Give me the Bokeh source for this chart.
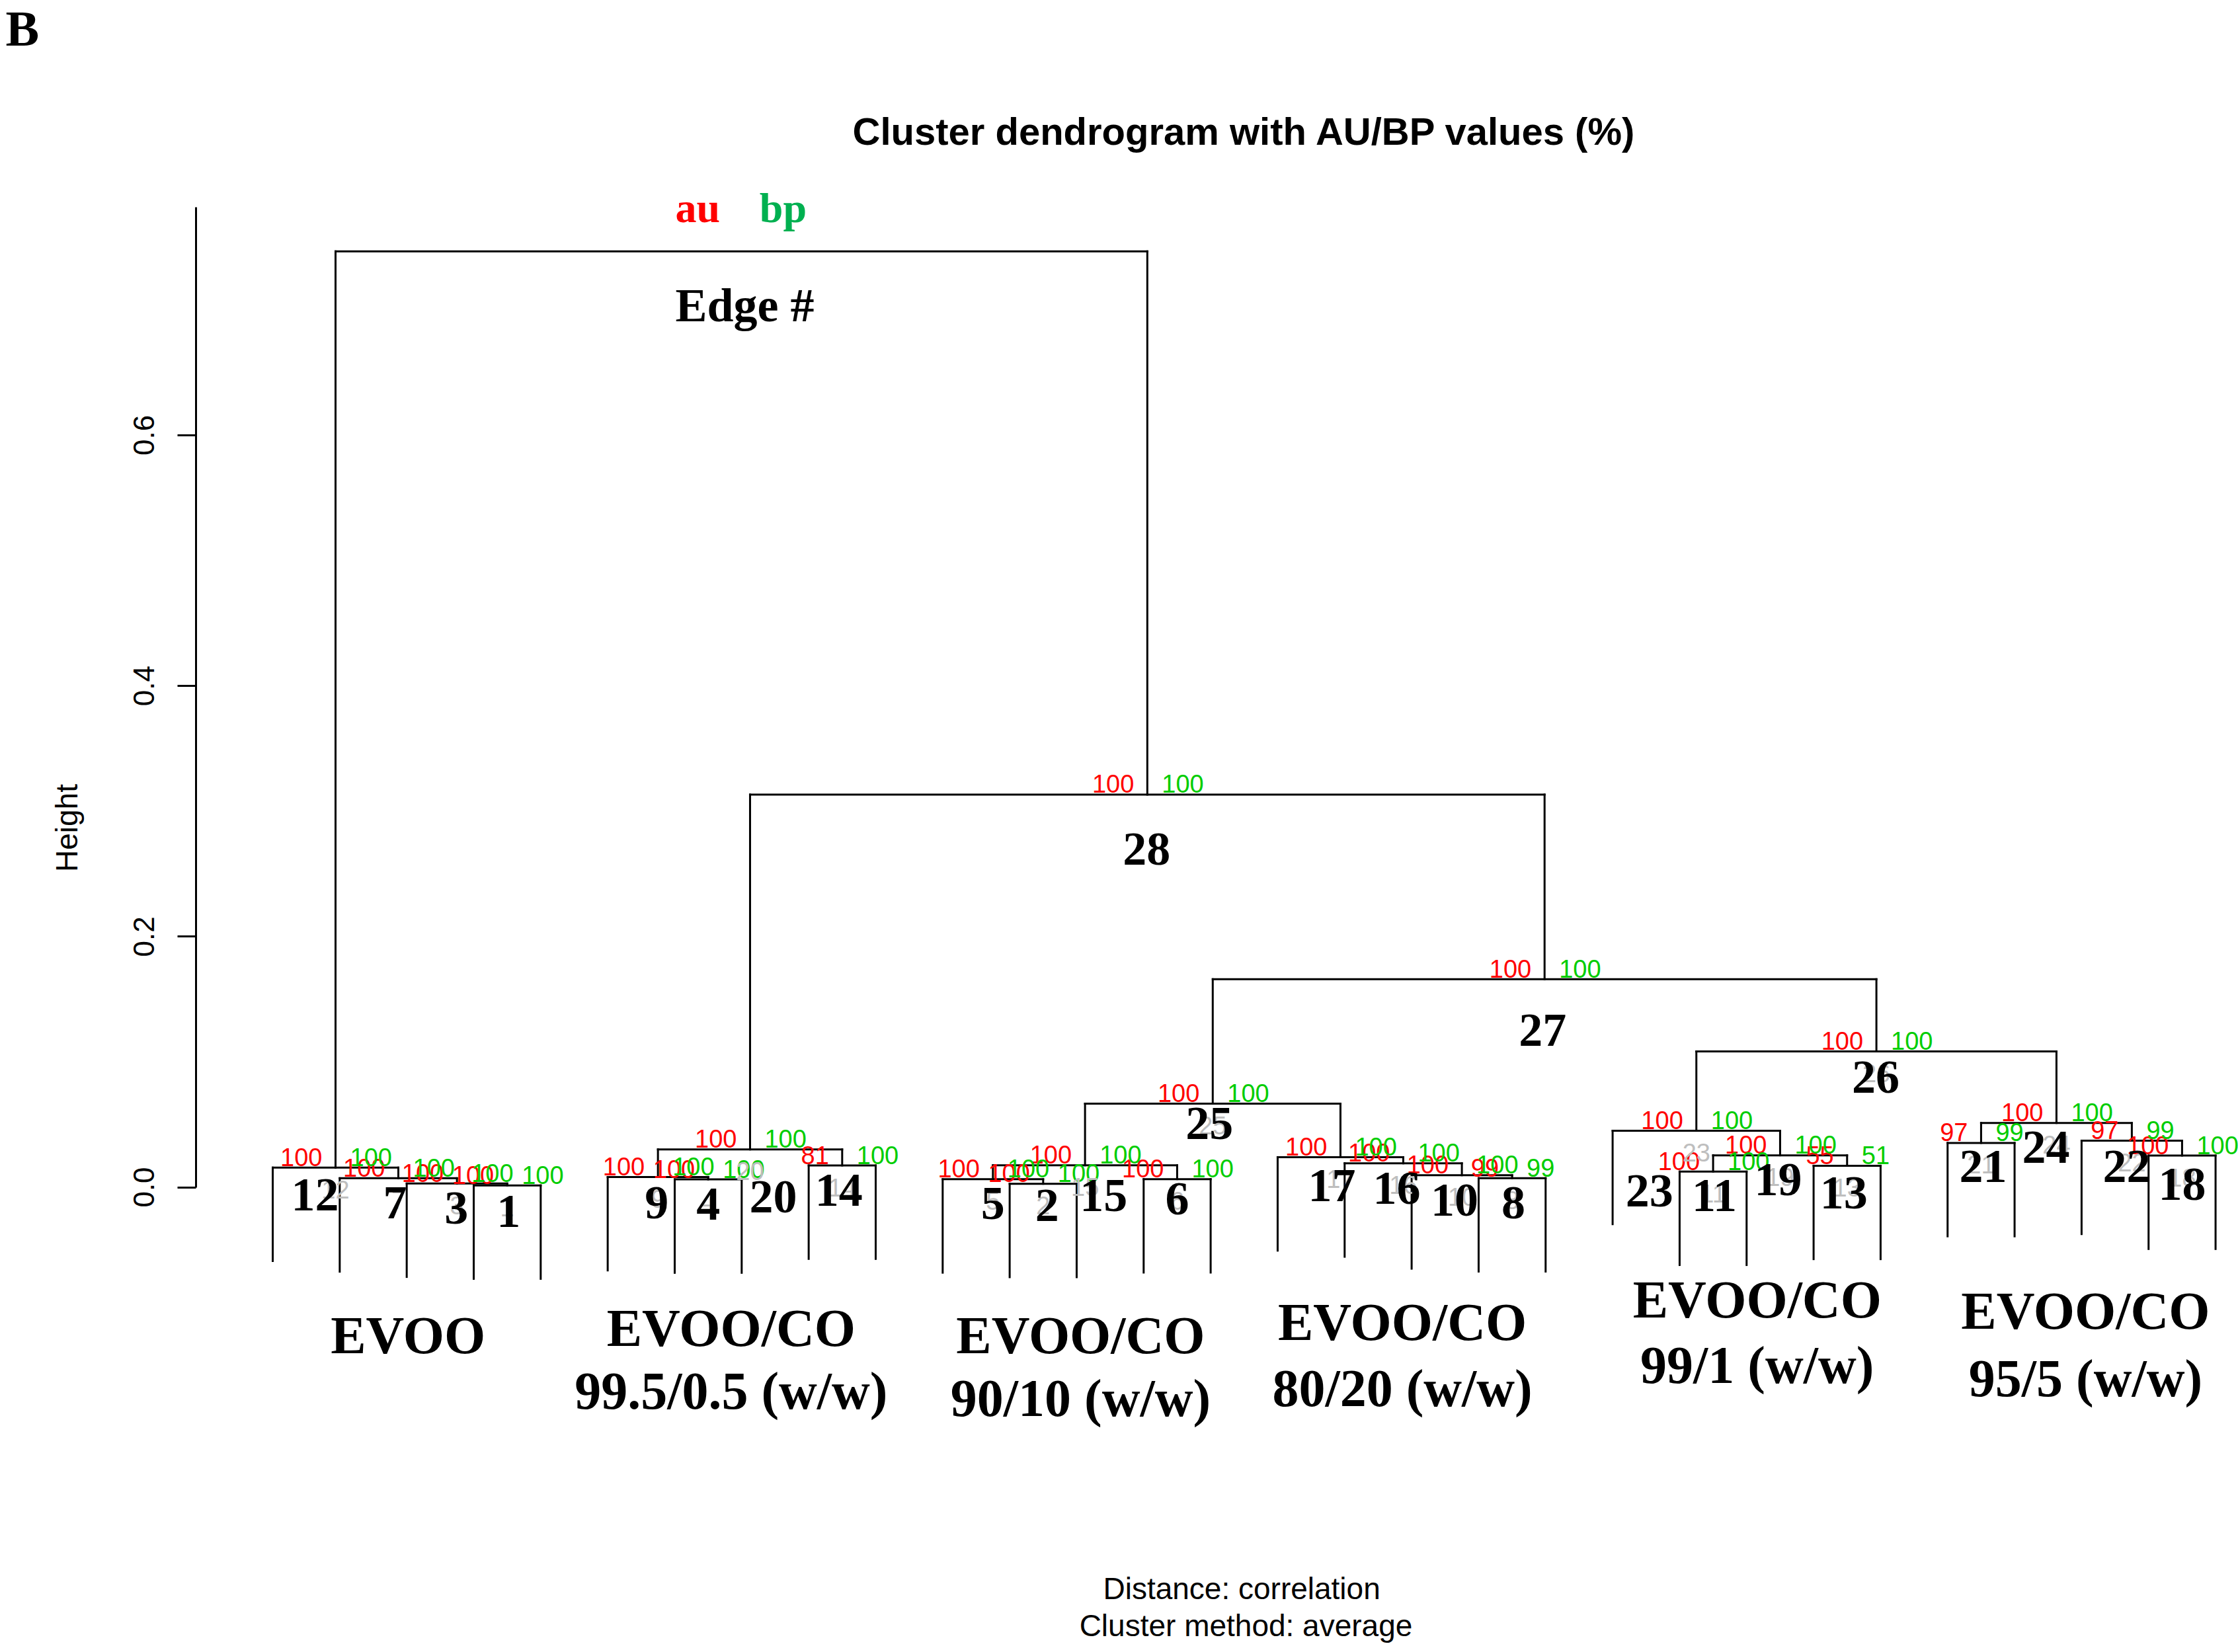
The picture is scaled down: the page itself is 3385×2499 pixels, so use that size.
import numpy as np
from bokeh.plotting import figure
from bokeh.models import Range1d, LinearAxis, FixedTicker, PrintfTickFormatter, ColumnDataSource
from bokeh.core.properties import value
from bokeh.embed import file_html
from bokeh.resources import INLINE

# ------------------------------------------------------------------ data
n_leaves = 30
edge_numbers = list(range(1, 30))
# hclust-style merges: negative = leaf (-(position+1)), positive = edge number
merge_left = [-4, -12, -3, -7, -11, -14, -2, -19, -6, -18, -22, -1, -24, -9, 5,
              -17, -16, -29, 11, 9, -26, -28, -21, 21, 15, 23, 25, 20, 12]
merge_right = [-5, -13, 1, -8, 2, -15, 3, -20, 4, 8, -23, 7, -25, -10, 6,
               10, 16, -30, 13, 14, -27, 18, 19, 22, 17, 24, 26, 27, 28]
merge_height = [0.0015, 0.0028, 0.0030, 0.0063, 0.0064, 0.0065, 0.0072, 0.0073,
                0.0082, 0.0096, 0.0125, 0.0157, 0.0172, 0.0174, 0.0175, 0.0191,
                0.0240, 0.0253, 0.0255, 0.0302, 0.0354, 0.0372, 0.0451, 0.0513,
                0.0667, 0.1084, 0.1660, 0.3133, 0.7467]
# AU / BP (%) for edges 1..28 (edge 29 = root carries the legend)
au_values = [100, 100, 100, 100, 100, 100, 100, 99, 100, 100, 100, 100, 55, 81,
             100, 100, 100, 100, 100, 100, 97, 97, 100, 100, 100, 100, 100, 100]
bp_values = [100, 100, 100, 100, 100, 100, 100, 99, 100, 100, 100, 100, 51, 100,
             100, 100, 100, 100, 100, 100, 99, 99, 100, 100, 100, 100, 100, 100]
group_line1 = ["EVOO", "EVOO/CO", "EVOO/CO", "EVOO/CO", "EVOO/CO", "EVOO/CO"]
group_line2 = ["", "99.5/0.5 (w/w)", "90/10 (w/w)", "80/20 (w/w)", "99/1 (w/w)", "95/5 (w/w)"]
group_sizes = [5, 5, 5, 5, 5, 5]
y_ticks = [0.0, 0.2, 0.4, 0.6]

# ------------------------------------------------------------------ layout / style
W, H = 3385, 2491
X0, DX = 412.0, 101.33        # canvas px of leaf 0, px per leaf
Y0, DY = 1795.5, 1896.0       # canvas px of height 0, px per unit height


def px_x(cx):
    return (cx - X0) / DX


def px_y(cy):
    return (Y0 - cy) / DY


# hand-placed big edge-number offsets (px) relative to node centre / line
edge_label_dx = [2, 6, -1, 0, 0, 0, -5, 2, -2, -11, 2, -31, -5, -5, 28, -10, -13, 0,
                 -3, 35, 3, -8, -71, -16, -5, -1, -3, -1]
edge_label_dy = [39, 33, 37, 37, 37, 30, 37, 37, 39, 38, 36, 41, 41, 37, 46, 38, 43, 43,
                 37, 72, 36, 39, 91, 37, 30, 39, 77, 83]
group_dx = [2, -16, 6, -14, 16, 6]
group_dy1 = [224, 213, 224, 204, 170, 187]
group_dy2 = [0, 308, 319, 304, 269, 289]

RED = "#FF0000"
GREEN = "#00CD00"
GRAY = "#BEBEBE"

# ------------------------------------------------------------------ dendrogram geometry
hang = 0.1 * (max(merge_height) - min(merge_height))
node_x, node_h = {}, {}
sx0, sy0, sx1, sy1 = [], [], [], []
for e, l, r, h in zip(edge_numbers, merge_left, merge_right, merge_height):
    def child(c):
        if c < 0:
            return float(-c - 1), h - hang
        return node_x[c], node_h[c]
    xl, bl = child(l)
    xr, br = child(r)
    node_x[e] = (xl + xr) / 2.0
    node_h[e] = h
    sx0 += [xl, xl, xr]
    sy0 += [h, h, h]
    sx1 += [xr, xl, xr]
    sy1 += [h, bl, br]

p = figure(width=W, height=H, x_range=Range1d(px_x(0), px_x(W)),
           y_range=Range1d(px_y(H), px_y(0)), output_backend="svg",
           toolbar_location=None, x_axis_type=None, y_axis_type=None,
           min_border=0, title=None)
p.outline_line_color = None
p.background_fill_color = "white"
p.border_fill_color = "white"

p.segment(x0=sx0, y0=sy0, x1=sx1, y1=sy1, line_color="black", line_width=3,
          line_cap="square")

# ------------------------------------------------------------------ y axis
yaxis = LinearAxis(fixed_location=px_x(295.5), bounds=(0, 0.782),
                   ticker=FixedTicker(ticks=y_ticks),
                   formatter=PrintfTickFormatter(format="%.1f"))
yaxis.axis_line_width = 3
yaxis.major_tick_line_width = 3
yaxis.major_tick_out = 28
yaxis.major_tick_in = 0
yaxis.minor_tick_out = 0
yaxis.minor_tick_in = 0
yaxis.major_label_orientation = "vertical"
yaxis.major_label_text_font = "Liberation Sans"
yaxis.major_label_text_font_size = "44px"
yaxis.major_label_text_color = "black"
yaxis.major_label_standoff = 35
p.add_layout(yaxis, "left")

sans = value("Liberation Sans")
serif = value("Liberation Serif")

p.text(x=[px_x(100)], y=[px_y(1252)], text=["Height"], angle=np.pi / 2,
       text_font=sans, text_font_size="46px", text_color="black",
       text_align="center", text_baseline="middle")

# ------------------------------------------------------------------ au / bp / edge labels
inner = edge_numbers[:28]
src = ColumnDataSource(dict(
    x=[node_x[e] for e in inner],
    y=[node_h[e] for e in inner],
    au=[str(v) for v in au_values],
    bp=[str(v) for v in bp_values],
    num=[str(e) for e in inner],
    dx=edge_label_dx,
    dy=edge_label_dy,
))

p.text(x="x", y="y", text="au", source=src, text_font=sans, text_font_size="38px",
       text_color=RED, text_align="right", text_baseline="middle",
       x_offset=-20, y_offset=-16)
p.text(x="x", y="y", text="bp", source=src, text_font=sans, text_font_size="38px",
       text_color=GREEN, text_align="left", text_baseline="middle",
       x_offset=22, y_offset=-16)

gray_edges = edge_numbers[:26]
gsrc = ColumnDataSource(dict(x=[node_x[e] for e in gray_edges],
                             y=[node_h[e] for e in gray_edges],
                             num=[str(e) for e in gray_edges]))
p.text(x="x", y="y", text="num", source=gsrc, text_font=sans, text_font_size="38px",
       text_color=GRAY, text_align="center", text_baseline="middle", y_offset=33)

p.text(x="x", y="y", text="num", source=src, text_font=serif, text_font_size="72px",
       text_font_style="bold", text_color="black", text_align="center",
       text_baseline="middle", x_offset="dx", y_offset="dy")

# root legend
root = edge_numbers[-1]
p.text(x=[node_x[root]], y=[node_h[root]], text=["au"], text_font=serif,
       text_font_size="64px", text_font_style="bold", text_color=RED,
       text_align="center", text_baseline="middle", x_offset=-66, y_offset=-66)
p.text(x=[node_x[root]], y=[node_h[root]], text=["bp"], text_font=serif,
       text_font_size="64px", text_font_style="bold", text_color="#00B050",
       text_align="center", text_baseline="middle", x_offset=63, y_offset=-66)
p.text(x=[node_x[root]], y=[node_h[root]], text=["Edge #"], text_font=serif,
       text_font_size="72px", text_font_style="bold", text_color="black",
       text_align="center", text_baseline="middle", x_offset=5, y_offset=82)

# ------------------------------------------------------------------ group labels
starts = np.cumsum([0] + group_sizes[:-1])
gx = [float(s) + (n - 1) / 2.0 for s, n in zip(starts, group_sizes)]
g1 = ColumnDataSource(dict(x=gx, y=[0.0] * len(gx), t=group_line1, dx=group_dx, dy=group_dy1))
p.text(x="x", y="y", text="t", source=g1, text_font=serif, text_font_size="80px",
       text_font_style="bold", text_color="black", text_align="center",
       text_baseline="middle", x_offset="dx", y_offset="dy")
g2 = ColumnDataSource(dict(x=gx, y=[0.0] * len(gx), t=group_line2, dx=group_dx, dy=group_dy2))
p.text(x="x", y="y", text="t", source=g2, text_font=serif, text_font_size="80px",
       text_font_style="bold", text_color="black", text_align="center",
       text_baseline="middle", x_offset="dx", y_offset="dy")

# ------------------------------------------------------------------ titles
p.text(x=[px_x(1882)], y=[px_y(198)], text=["Cluster dendrogram with AU/BP values (%)"],
       text_font=sans, text_font_size="58px", text_font_style="bold",
       text_color="black", text_align="center", text_baseline="middle")
p.text(x=[px_x(1884)], y=[px_y(2402)], text=["Distance:  correlation"],
       text_font=sans, text_font_size="46px", text_color="black",
       text_align="center", text_baseline="middle")
p.text(x=[px_x(1884)], y=[px_y(2458)], text=["Cluster method: average"],
       text_font=sans, text_font_size="46px", text_color="black",
       text_align="center", text_baseline="middle")
p.text(x=[px_x(8)], y=[px_y(42)], text=["B"], text_font=serif, text_font_size="76px",
       text_font_style="bold", text_color="black", text_align="left",
       text_baseline="middle")

open("out.html", "w").write(file_html(p, INLINE))
